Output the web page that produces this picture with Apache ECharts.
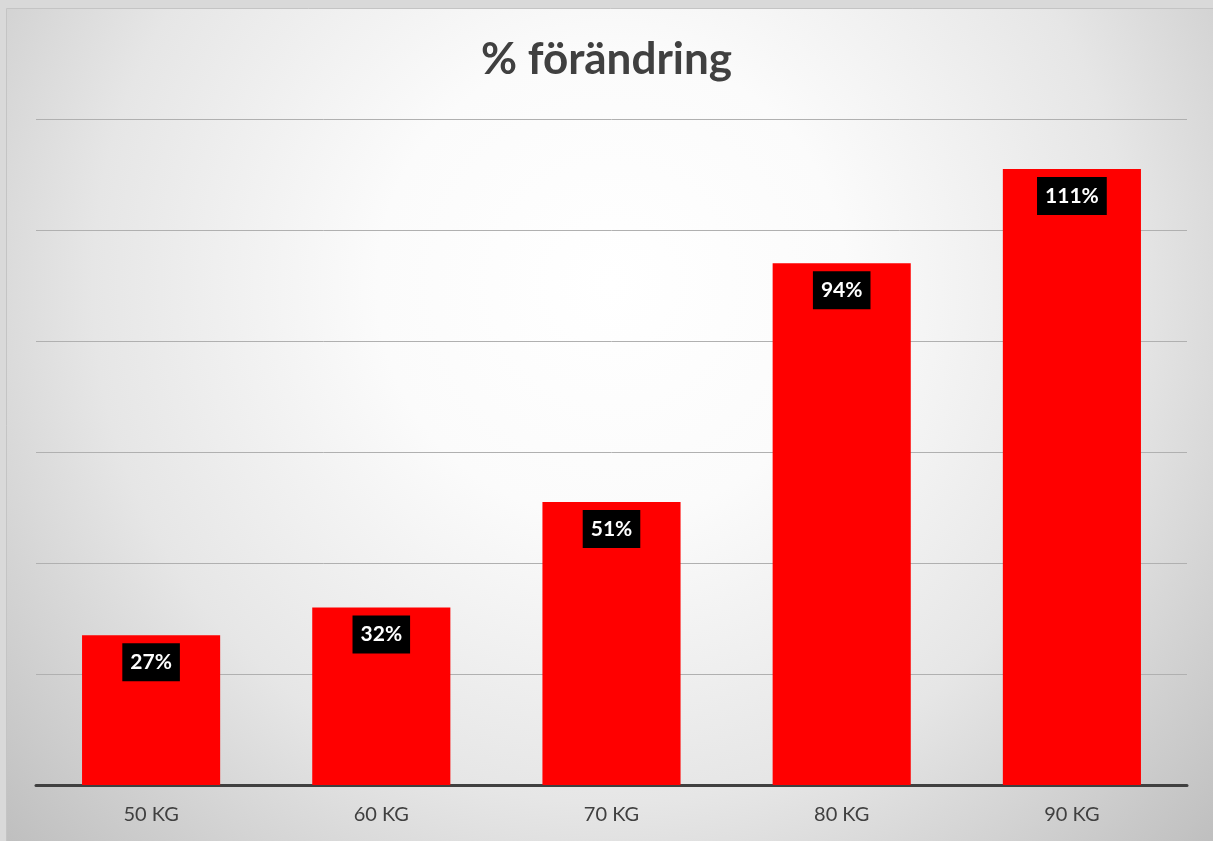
<!DOCTYPE html>
<html>
<head>
<meta charset="utf-8">
<script src="https://cdn.jsdelivr.net/npm/echarts@6/dist/echarts.min.js"></script>
<style>
  html, body { margin: 0; padding: 0; background: #d9d9d9; }
  #chart { width: 1213px; height: 841px; }
</style>
</head>
<body>
<div id="chart"></div>
<script>
// kategorier och värden (% förändring)
var categories = ['50 KG', '60 KG', '70 KG', '80 KG', '90 KG'];
var values = [27, 32, 51, 94, 111];

var myChart = echarts.init(document.getElementById('chart'));

var option = {
  backgroundColor: '#d9d9d9',
  animation: false,
  graphic: [
    {
      type: 'rect',
      z: -10,
      silent: true,
      shape: { x: 6.5, y: 8.5, width: 1210, height: 836 },
      style: {
        fill: {
          type: 'radial',
          x: 0.5, y: 0.33, r: 1,
          colorStops: [
            { offset: 0, color: '#ffffff' },
            { offset: 0.28, color: '#fbfbfb' },
            { offset: 0.62, color: '#e6e6e6' },
            { offset: 1, color: '#bdbdbd' }
          ]
        },
        stroke: '#c4c4c4',
        lineWidth: 1
      }
    }
  ],
  title: {
    text: '% förändring',
    left: 'center',
    top: 33,
    textStyle: {
      fontFamily: 'Lato',
      fontSize: 44,
      fontWeight: 'bold',
      color: '#404040'
    }
  },
  grid: {
    left: 36,
    right: 26,
    top: 119,
    bottom: 56
  },
  xAxis: {
    type: 'category',
    data: categories,
    axisLine: { lineStyle: { color: '#404040', width: 3 } },
    axisTick: { show: false },
    axisLabel: {
      margin: 20,
      fontFamily: 'Lato',
      fontSize: 20,
      color: '#404040'
    }
  },
  yAxis: {
    type: 'value',
    min: 0,
    max: 120,
    interval: 20,
    axisLabel: { show: false },
    axisLine: { show: false },
    axisTick: { show: false },
    splitLine: { lineStyle: { color: '#b0b0b0', width: 1 } }
  },
  series: [
    {
      type: 'bar',
      data: values,
      barCategoryGap: '40%',
      itemStyle: { color: '#ff0000' },
      label: {
        show: true,
        position: 'insideTop',
        distance: 8,
        formatter: '{c}%',
        backgroundColor: '#000000',
        color: '#ffffff',
        fontFamily: 'Lato',
        fontWeight: 'bold',
        fontSize: 21,
        lineHeight: 24,
        padding: [7, 8, 7, 8]
      }
    }
  ]
};

myChart.setOption(option);
</script>
</body>
</html>
